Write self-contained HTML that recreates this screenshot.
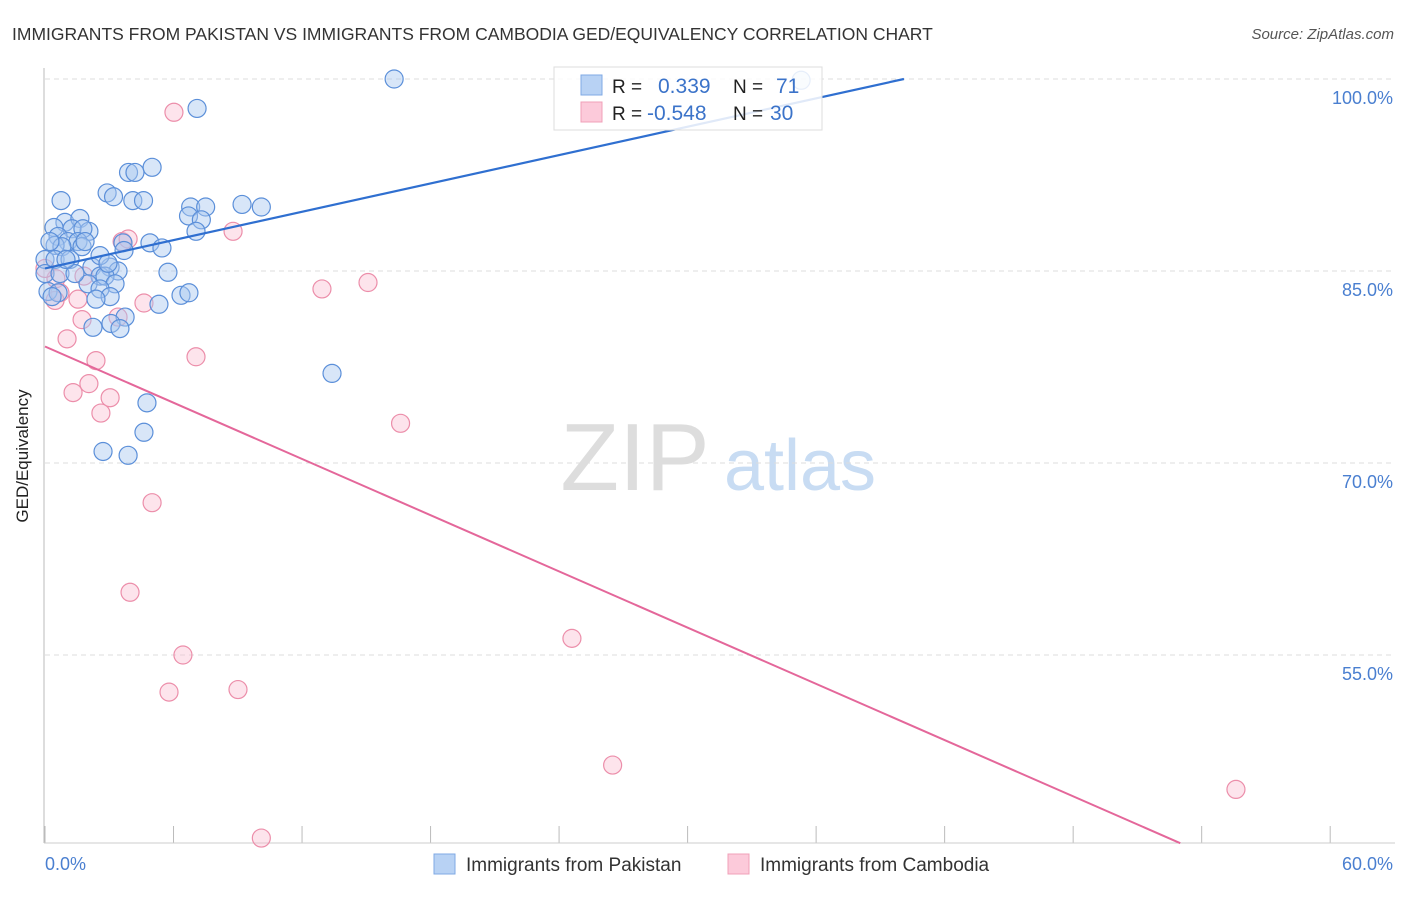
<!DOCTYPE html>
<html><head><meta charset="utf-8"><style>
body{margin:0;background:#fff;font-family:"Liberation Sans",sans-serif}
svg text{font-family:"Liberation Sans",sans-serif}
</style></head><body>
<svg width="1406" height="892" viewBox="0 0 1406 892">
<text x="12" y="40" font-size="17.5" fill="#333">IMMIGRANTS FROM PAKISTAN VS IMMIGRANTS FROM CAMBODIA GED/EQUIVALENCY CORRELATION CHART</text>
<text x="1394" y="39" font-size="15" fill="#555" font-style="italic" text-anchor="end">Source: ZipAtlas.com</text>
<g>
<text x="635" y="490" font-size="96" fill="#ddd" font-family="Liberation Serif" text-anchor="middle">ZIP</text>
<text x="800" y="490" font-size="72" fill="#c8dcf3" text-anchor="middle">atlas</text>
</g>
<g id="grid"></g>
<line x1="44" y1="68" x2="44" y2="843" stroke="#bbb"/>
<line x1="44" y1="843" x2="1395" y2="843" stroke="#ccc"/>
<text x="28" y="456" font-size="17" fill="#222" text-anchor="middle" transform="rotate(-90 28 456)">GED/Equivalency</text>
<text x="45" y="870" font-size="18" fill="#4a7fd0">0.0%</text>
<text x="1393" y="870" font-size="18" fill="#4a7fd0" text-anchor="end">60.0%</text>
<g id="pts"></g>
<g id="lines"></g>
<g>
<rect x="554" y="67" width="268" height="63" fill="#fff" fill-opacity="0.85" stroke="#ddd"/>
<rect x="581" y="75" width="21" height="20" fill="#b8d2f4" stroke="#7fa9e4"/>
<rect x="581" y="102" width="21" height="20" fill="#fccada" stroke="#f0a0b8"/>
<text x="612" y="93" font-size="19" fill="#222">R =</text>
<text x="658" y="93" font-size="21" fill="#3b73c9">0.339</text>
<text x="733" y="93" font-size="19" fill="#222">N =</text>
<text x="776" y="93" font-size="21" fill="#3b73c9">71</text>
<text x="612" y="120" font-size="19" fill="#222">R =</text>
<text x="647" y="120" font-size="21" fill="#3b73c9">-0.548</text>
<text x="733" y="120" font-size="19" fill="#222">N =</text>
<text x="770" y="120" font-size="21" fill="#3b73c9">30</text>
</g>
<g>
<rect x="434" y="854" width="21" height="20" fill="#b8d2f4" stroke="#7fa9e4"/>
<text x="466" y="871" font-size="19" fill="#333">Immigrants from Pakistan</text>
<rect x="728" y="854" width="21" height="20" fill="#fccada" stroke="#f0a0b8"/>
<text x="760" y="871" font-size="19" fill="#333">Immigrants from Cambodia</text>
</g>
</svg>
<script>
const yTicks=[100,85,70,55];
const yTickLabels=["100.0%","85.0%","70.0%","55.0%"];
const xTicks=[0,6,12,18,24,30,36,42,48,54,60];
const blueX=[16.3,35.3,7.1,5.0,3.9,4.2,2.9,3.2,0.75,4.1,4.6,9.2,10.1,6.8,7.5,6.7,7.3,0.93,1.63,0.42,2.05,1.26,1.77,7.05,0.61,1.07,1.54,3.64,4.9,5.46,0.47,0.79,1.73,3.69,0,0.47,1.17,2.19,3.04,3.41,5.74,2.57,2.8,2.01,3.27,2.57,0.14,0.61,3.04,6.35,6.72,2.38,5.32,3.74,3.08,2.24,3.5,13.4,4.76,4.62,2.71,3.88,0,0.7,1.4,0.23,0.98,2.57,1.87,2.94,0.33];
const blueY=[100,99.9,97.7,93.1,92.7,92.7,91.1,90.8,90.5,90.5,90.5,90.2,90.0,90.0,90.0,89.3,89.0,88.8,89.1,88.4,88.1,88.3,88.3,88.1,87.7,87.3,87.3,87.2,87.2,86.8,87.0,86.9,86.9,86.6,85.9,85.9,85.9,85.3,85.3,85.0,84.9,84.6,84.6,84.0,84.0,83.6,83.4,83.3,83.0,83.1,83.3,82.8,82.4,81.4,80.9,80.6,80.5,77.0,74.7,72.4,70.9,70.6,84.8,84.8,84.8,87.3,85.9,86.2,87.3,85.6,83.0];
const pinkX=[6.02,8.78,3.6,3.88,0.51,1.82,0,0.7,0.47,1.54,12.93,15.08,4.62,1.73,3.41,1.03,7.05,2.38,2.05,1.31,3.04,2.61,16.6,5.0,3.97,24.6,6.44,5.79,9.01,26.5,55.6,10.1];
const pinkY=[97.4,88.1,87.3,87.5,84.4,84.6,85.2,83.3,82.7,82.8,83.6,84.1,82.5,81.2,81.4,79.7,78.3,78.0,76.2,75.5,75.1,73.9,73.1,66.9,59.9,56.3,55.0,52.1,52.3,46.4,44.5,40.7];
const blueLine=[[0,85.2],[40.1,100]];
const pinkLine=[[0,79.1],[53.0,40.3]];
const X=v=>45+v*21.42, Y=v=>79+(100-v)*12.8;
const NS="http://www.w3.org/2000/svg";
function mk(t,a,p){const e=document.createElementNS(NS,t);for(const k in a)e.setAttribute(k,a[k]);p.appendChild(e);return e;}
const grid=document.getElementById('grid');
yTicks.forEach((t,i)=>{
 const l=mk('line',{x1:45,x2:1395,y1:Y(t),y2:Y(t),stroke:'#ddd','stroke-dasharray':'5,4'},grid);
 
 
 const tx=mk('text',{x:1393,y:Y(t)+25,'font-size':18,fill:'#4a7fd0','text-anchor':'end'},grid);
 tx.textContent=yTickLabels[i];
 
 
});
xTicks.forEach(t=>{
 const l=mk('line',{x1:X(t),x2:X(t),y1:826,y2:843,stroke:'#bbb'},grid);
 
 
});
const pts=document.getElementById('pts');
pinkX.forEach((x,i)=>{
 const c=mk('circle',{cx:X(x),cy:Y(pinkY[i]),r:9,fill:'#f9bccf','fill-opacity':0.4,stroke:'#ec8eaa','stroke-width':1.2},pts);
 
 
});
blueX.forEach((x,i)=>{
 const c=mk('circle',{cx:X(x),cy:Y(blueY[i]),r:9,fill:'#a9c8f0','fill-opacity':0.45,stroke:'#5b8fd9','stroke-width':1.2},pts);
 
 
});
const lines=document.getElementById('lines');
const bl=mk('line',{x1:X(blueLine[0][0]),y1:Y(blueLine[0][1]),x2:X(blueLine[1][0]),y2:Y(blueLine[1][1]),stroke:'#2f6fd0','stroke-width':2.2},lines);


const pl=mk('line',{x1:X(pinkLine[0][0]),y1:Y(pinkLine[0][1]),x2:X(pinkLine[1][0]),y2:Y(pinkLine[1][1]),stroke:'#e4679a','stroke-width':2},lines);


</script>
</body></html>
